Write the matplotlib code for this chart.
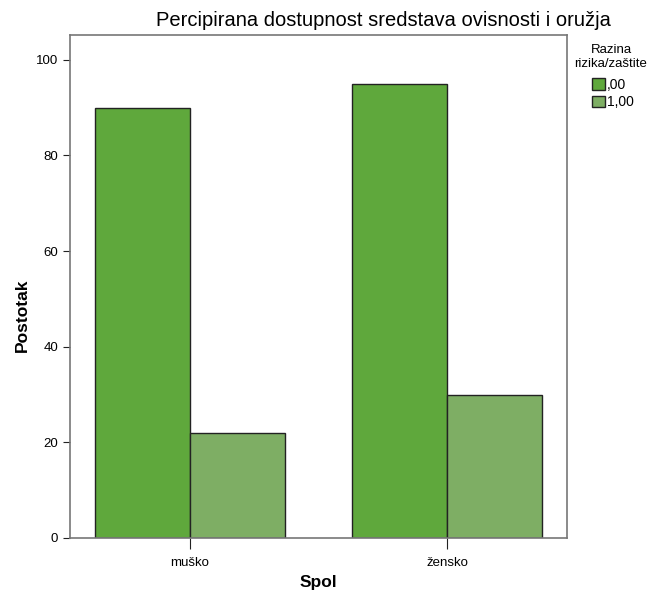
import matplotlib
matplotlib.use("Agg")
import matplotlib.pyplot as plt
import numpy as np
from matplotlib.patches import Patch

# data
categories = ["muško", "žensko"]
level_labels = [",00", "1,00"]
values_00 = [90, 95]
values_100 = [22, 30]
colors = ["#5fa83c", "#7eae64"]

plt.rcParams['font.family'] = ['Liberation Sans', 'DejaVu Sans']

fig = plt.figure(figsize=(6.49, 5.93), dpi=100)
W, H = 649, 593
ax = fig.add_axes([70 / W, 1 - 538 / H, (567 - 70) / W, (538 - 35) / H])

x = np.arange(len(categories))
w = 0.37
ax.bar(x - w / 2, values_00, w, color=colors[0], edgecolor="#222222", linewidth=1)
ax.bar(x + w / 2, values_100, w, color=colors[1], edgecolor="#222222", linewidth=1)

ax.set_xlim(-0.467, 1.467)
ax.set_ylim(0, 105.2)
ax.set_xticks(x)
ax.set_xticklabels(categories, fontsize=9.5)
ax.set_yticks([0, 20, 40, 60, 80, 100])
ax.tick_params(axis="y", labelsize=9.5, length=5, color="#222222")
ax.tick_params(axis="x", length=8, color="#222222", pad=6)
for s in ax.spines.values():
    s.set_color("#777777")
    s.set_linewidth(1.2)

fig.text(22 / W, 1 - 315 / H, "Postotak", rotation=90, fontsize=12.5, fontweight="bold",
         ha="center", va="center")
fig.text(318 / W, 1 - 582 / H, "Spol", fontsize=12.5, fontweight="bold",
         ha="center", va="center")
fig.text(383 / W, 1 - 20 / H, "Percipirana dostupnost sredstava ovisnosti i oružja",
         fontsize=14.5, ha="center", va="center")

fig.text(611 / W, 1 - 57 / H, "Razina\nrizika/zaštite", fontsize=9.5,
         ha="center", va="center", linespacing=1.15)
handles = [Patch(facecolor=c, edgecolor="#222222", label=l) for c, l in zip(colors, level_labels)]
fig.legend(handles=handles, loc="upper left", bbox_to_anchor=(592 / W, 1 - 78 / H),
           frameon=False, fontsize=10, handlelength=0.9, handleheight=0.9,
           handletextpad=0.2, labelspacing=0.25, borderpad=0, borderaxespad=0)

fig.savefig("out.png", dpi=100)
